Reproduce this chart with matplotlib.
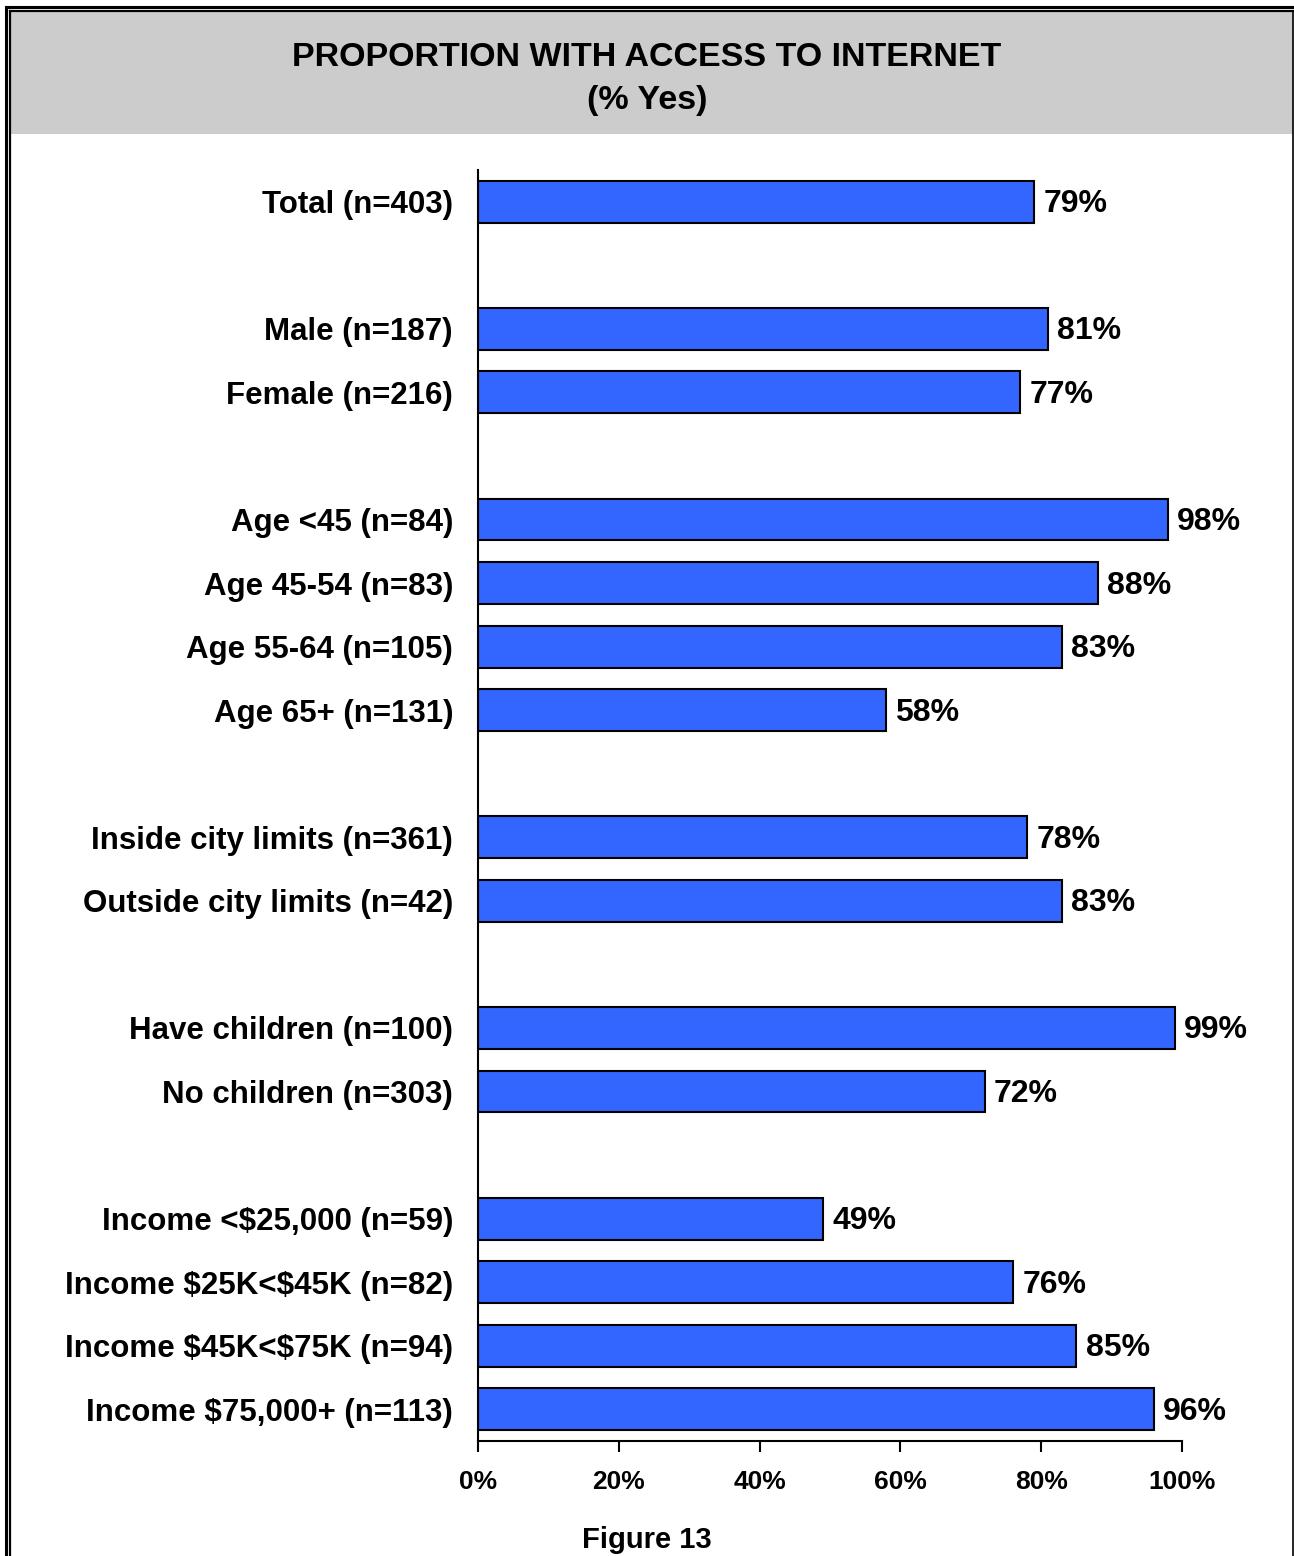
import numpy as np
import matplotlib
matplotlib.use("Agg")
import matplotlib.pyplot as plt
from matplotlib.patches import Rectangle
from matplotlib.lines import Line2D

plt.rcParams['font.family'] = ['Liberation Sans', 'DejaVu Sans']

# data, top to bottom; blank slots are the gaps between groups
labels = ["Total (n=403)", "", "Male (n=187)", "Female (n=216)", "",
          "Age <45 (n=84)", "Age 45-54 (n=83)", "Age 55-64 (n=105)", "Age 65+ (n=131)", "",
          "Inside city limits (n=361)", "Outside city limits (n=42)", "",
          "Have children (n=100)", "No children (n=303)", "",
          "Income <\\$25,000 (n=59)", "Income \\$25K<\\$45K (n=82)",
          "Income \\$45K<\\$75K (n=94)", "Income \\$75,000+ (n=113)"]
values = [79, None, 81, 77, None, 98, 88, 83, 58, None, 78, 83, None, 99, 72, None, 49, 76, 85, 96]
xticks = [0, 20, 40, 60, 80, 100]

W, H = 1294, 1556
fig = plt.figure(figsize=(W / 100, H / 100), dpi=100)


def fline(x0, y0, x1, y1, lw):
    # line in pixel coords measured from the top-left corner
    fig.lines.append(Line2D([x0 / W, x1 / W], [1 - y0 / H, 1 - y1 / H],
                            transform=fig.transFigure, color='black', linewidth=lw))


# grey title band and the frame (no bottom edge)
fig.patches.append(Rectangle((11 / W, (H - 134) / H), (W - 12) / W, 123 / H, transform=fig.transFigure,
                             facecolor='#cccccc', edgecolor='none'))
fline(6, 7, W, 7, 2.2)
fline(6, 7, 6, H, 2.2)
fline(10, 11, W, 11, 1.6)
fline(10, 11, 10, H, 1.6)
fline(W - 1.5, 11, W - 1.5, H, 1.2)

fig.text(0.5, (H - 57) / H, "PROPORTION WITH ACCESS TO INTERNET", ha='center', va='center',
         fontsize=24.5, fontweight='bold')
fig.text(0.5, (H - 100) / H, "(% Yes)", ha='center', va='center', fontsize=24.5, fontweight='bold')

ax = fig.add_axes([478 / W, 115 / H, 704 / W, 1271 / H])
pos = np.arange(len(labels))
for i, v in enumerate(values):
    if v is None:
        continue
    ax.barh(i, v, height=0.66, color='#3366ff', edgecolor='black', linewidth=1.5)
    ax.text(v + 1.3, i + 0.04, f"{v}%", va='center', ha='left', fontsize=23, fontweight='bold')

ax.set_ylim(len(labels) - 0.5, -0.5)
ax.set_xlim(0, 100)
ax.set_yticks(pos)
ax.set_yticklabels(labels, fontsize=22.5, fontweight='bold')
ax.tick_params(axis='y', length=0, pad=18)
ax.set_xticks(xticks)
ax.set_xticklabels([f"{t}%" for t in xticks], fontsize=19, fontweight='bold')
ax.tick_params(axis='x', direction='out', length=8, width=1.5, pad=13)
for s in ['top', 'right']:
    ax.spines[s].set_visible(False)
ax.spines['left'].set_linewidth(1.5)
ax.spines['bottom'].set_linewidth(1.5)

fig.text(0.5, (H - 1540) / H, "Figure 13", ha='center', va='center', fontsize=21, fontweight='bold')

fig.savefig("out.png", dpi=100)
